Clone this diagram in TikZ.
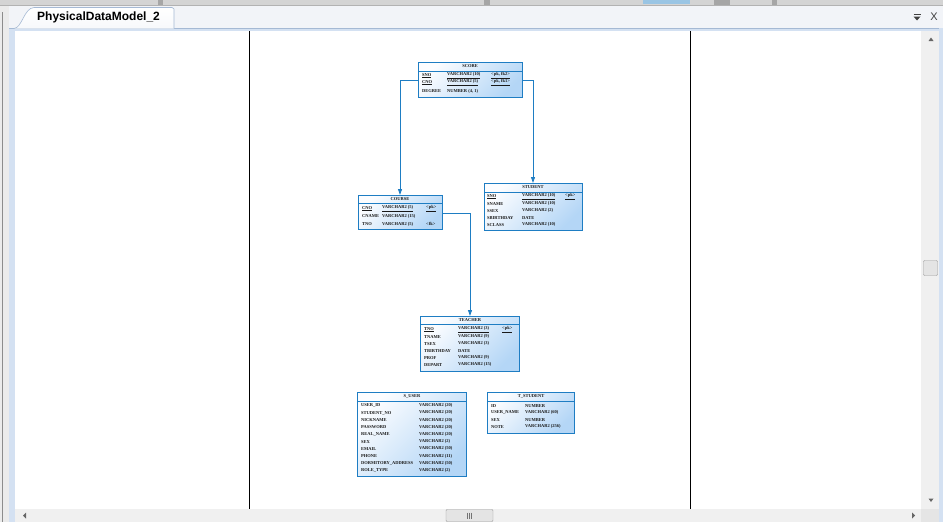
\documentclass[tikz,border=0pt]{standalone}
\usepackage{fontspec}
\setmainfont{Liberation Serif}
\newfontfamily\uifont{Liberation Sans}
\usetikzlibrary{arrows.meta}
\definecolor{erblue}{RGB}{30,125,195}
\definecolor{erfillA}{RGB}{252,253,255}
\definecolor{erfillB}{RGB}{180,214,246}
\definecolor{uibg}{RGB}{242,244,248}
\definecolor{uiframe}{RGB}{212,225,242}
\definecolor{uiline}{RGB}{165,185,212}
\definecolor{track}{RGB}{240,240,240}
\definecolor{thumb}{RGB}{228,228,228}
\newcommand\erfont{\fontsize{4.5}{5}\selectfont\bfseries}
\tikzset{
  tablebox/.style={draw=erblue, line width=0.9pt, top color=erfillA, bottom color=erfillB, shading angle=45, anchor=north west, inner sep=0pt, outer sep=0pt},
  rowtext/.style={anchor=west, inner sep=0pt, font=\erfont, text=black!90},
  titletext/.style={anchor=center, inner sep=0pt, font=\erfont, text=black!90},
  hdrline/.style={draw=erblue, line width=0.6pt},
  conn/.style={draw=erblue, line width=0.9pt, -{Triangle[length=6pt,width=4pt]}},
  sbarrow/.style={fill=black!60, draw=none},
}
\begin{document}
\begin{tikzpicture}[x=1pt,y=-1pt]
\useasboundingbox (0,0) rectangle (943,522);
% ---------- window chrome ----------
\fill[uibg] (0,0) rectangle (943,522);
\fill[black!17] (0,0) rectangle (943,5);
\draw[black!30] (0,5.5) -- (943,5.5);
\fill[black!35] (158,0) rectangle (163,5);
\fill[black!35] (484,0) rectangle (490,5);
\fill[erblue!45] (643,0) rectangle (690,4);
\fill[black!35] (714,0) rectangle (730,5);
\fill[black!35] (772,0) rectangle (777,5);
\fill[black!8] (0,6) rectangle (9,522);
\draw[black!45] (2.5,12) -- (2.5,522);
\fill[uiframe] (9,28) rectangle (943,522);
\draw[uiline] (9,28) -- (943,28);
% tab
\path[top color=white, bottom color=uibg!60!white, draw=uiline, line width=0.6pt]
  (14,28.5) .. controls (22,28) and (24,8) .. (34,7.5) -- (172,7.5) -- (174,9) -- (174,28.5);
\node[font=\uifont\fontsize{12}{14}\selectfont\bfseries, inner sep=0pt, anchor=west] (tabtitle) at (37,17.5) {PhysicalDataModel\_2};
\fill[black!75] (913.5,16.5) -- (920.5,16.5) -- (917,20.5) -- cycle;
\draw[black!75, line width=0.8pt] (913.5,14) -- (920.5,14);
\node[font=\uifont\fontsize{11}{12}\selectfont, text=black!75, inner sep=0pt] (closex) at (934,16.5) {X};
% canvas
\fill[white] (15,31) rectangle (921,509);
\draw[black, line width=0.9pt] (249.5,31) -- (249.5,509);
\draw[black, line width=0.9pt] (690.5,31) -- (690.5,509);
% vertical scrollbar
\fill[track] (921,31) rectangle (939,509);
\fill[uiframe] (939,28) rectangle (943,522);
\draw[black!40, fill=thumb, rounded corners=1pt] (923.5,260.5) rectangle (937.5,275.5);
\fill[sbarrow] (928.5,41) -- (933.5,41) -- (931,37.5) -- cycle;
\fill[sbarrow] (928.5,498.5) -- (933.5,498.5) -- (931,502) -- cycle;
% horizontal scrollbar
\fill[track] (15,509) rectangle (921,521.5);
\fill[black!10] (921,509) rectangle (939,522);
\draw[black!40, fill=thumb, rounded corners=1pt] (446,509.5) rectangle (493,521.5);
\draw[black!55, line width=0.6pt] (467.5,512.5) -- (467.5,518.5) (469.5,512.5) -- (469.5,518.5) (471.5,512.5) -- (471.5,518.5);
\fill[sbarrow] (26,512.5) -- (26,518.5) -- (23,515.5) -- cycle;
\fill[sbarrow] (912,512.5) -- (912,518.5) -- (915,515.5) -- cycle;
% ---------- SCORE ----------
\node[tablebox, minimum width=104pt, minimum height=35pt] (score) at (418,62) {};
\node[titletext] (score-t) at (470,66.5) {SCORE};
\draw[hdrline] (score.west |- 0,71) -- (score.east |- 0,71);
\node[rowtext] (score-1n) at (422,75.7) {\underline{SNO}};
\node[rowtext] (score-1t) at (447,75.7) {\underline{VARCHAR2 (10)}};
\node[rowtext] (score-1k) at (491,75.7) {\underline{<pk, fk2>}};
\node[rowtext] (score-2n) at (422,82.7) {\underline{CNO}};
\node[rowtext] (score-2t) at (447,82.7) {\underline{VARCHAR2 (5)}};
\node[rowtext] (score-2k) at (491,82.7) {\underline{<pk, fk1>}};
\node[rowtext] (score-3n) at (422,91) {DEGREE};
\node[rowtext] (score-3t) at (447,91) {NUMBER (4, 1)};
% ---------- COURSE ----------
\node[tablebox, minimum width=84pt, minimum height=34pt] (course) at (358,195) {};
\node[titletext] (course-t) at (400,199) {COURSE};
\draw[hdrline] (course.west |- 0,203.7) -- (course.east |- 0,203.7);
\node[rowtext] (course-1n) at (362,208.7) {\underline{CNO}};
\node[rowtext] (course-1t) at (382,208.7) {\underline{VARCHAR2 (5)}};
\node[rowtext] (course-1k) at (426,208.7) {\underline{<pk>}};
\node[rowtext] (course-2n) at (362,216) {CNAME};
\node[rowtext] (course-2t) at (382,216) {VARCHAR2 (15)};
\node[rowtext] (course-3n) at (362,224) {TNO};
\node[rowtext] (course-3t) at (382,224) {VARCHAR2 (5)};
\node[rowtext] (course-3k) at (426,224) {<fk>};
% ---------- STUDENT ----------
\node[tablebox, minimum width=98pt, minimum height=47pt] (student) at (484,183) {};
\node[titletext] (student-t) at (533,187.5) {STUDENT};
\draw[hdrline] (student.west |- 0,192) -- (student.east |- 0,192);
\node[rowtext] (student-1n) at (487,196.7) {\underline{SNO}};
\node[rowtext] (student-1t) at (522,196.7) {\underline{VARCHAR2 (10)}};
\node[rowtext] (student-1k) at (565,196.7) {\underline{<pk>}};
\node[rowtext] (student-2n) at (487,203.7) {SNAME};
\node[rowtext] (student-2t) at (522,203.7) {VARCHAR2 (10)};
\node[rowtext] (student-3n) at (487,210.7) {SSEX};
\node[rowtext] (student-3t) at (522,210.7) {VARCHAR2 (2)};
\node[rowtext] (student-4n) at (487,217.7) {SBIRTHDAY};
\node[rowtext] (student-4t) at (522,217.7) {DATE};
\node[rowtext] (student-5n) at (487,224.7) {SCLASS};
\node[rowtext] (student-5t) at (522,224.7) {VARCHAR2 (10)};
% ---------- TEACHER ----------
\node[tablebox, minimum width=99pt, minimum height=55pt] (teacher) at (420.5,316) {};
\node[titletext] (teacher-t) at (470,320) {TEACHER};
\draw[hdrline] (teacher.west |- 0,324.7) -- (teacher.east |- 0,324.7);
\node[rowtext] (teacher-1n) at (424,329.7) {\underline{TNO}};
\node[rowtext] (teacher-1t) at (458,329.7) {\underline{VARCHAR2 (3)}};
\node[rowtext] (teacher-1k) at (502,329.7) {\underline{<pk>}};
\node[rowtext] (teacher-2n) at (424,336.7) {TNAME};
\node[rowtext] (teacher-2t) at (458,336.7) {VARCHAR2 (9)};
\node[rowtext] (teacher-3n) at (424,343.7) {TSEX};
\node[rowtext] (teacher-3t) at (458,343.7) {VARCHAR2 (3)};
\node[rowtext] (teacher-4n) at (424,350.7) {TBIRTHDAY};
\node[rowtext] (teacher-4t) at (458,350.7) {DATE};
\node[rowtext] (teacher-5n) at (424,357.7) {PROF};
\node[rowtext] (teacher-5t) at (458,357.7) {VARCHAR2 (9)};
\node[rowtext] (teacher-6n) at (424,364.7) {DEPART};
\node[rowtext] (teacher-6t) at (458,364.7) {VARCHAR2 (15)};
% ---------- S_USER ----------
\node[tablebox, minimum width=109pt, minimum height=84pt] (suser) at (357.5,392) {};
\node[titletext] (suser-t) at (412,396) {S\_USER};
\draw[hdrline] (suser.west |- 0,401) -- (suser.east |- 0,401);
\node[rowtext] (suser-1n) at (361,405.7) {USER\_ID};
\node[rowtext] (suser-1t) at (419,405.7) {VARCHAR2 (20)};
\node[rowtext] (suser-2n) at (361,412.9) {STUDENT\_NO};
\node[rowtext] (suser-2t) at (419,412.9) {VARCHAR2 (20)};
\node[rowtext] (suser-3n) at (361,420.1) {NICKNAME};
\node[rowtext] (suser-3t) at (419,420.1) {VARCHAR2 (20)};
\node[rowtext] (suser-4n) at (361,427.3) {PASSWORD};
\node[rowtext] (suser-4t) at (419,427.3) {VARCHAR2 (20)};
\node[rowtext] (suser-5n) at (361,434.5) {REAL\_NAME};
\node[rowtext] (suser-5t) at (419,434.5) {VARCHAR2 (20)};
\node[rowtext] (suser-6n) at (361,441.7) {SEX};
\node[rowtext] (suser-6t) at (419,441.7) {VARCHAR2 (2)};
\node[rowtext] (suser-7n) at (361,448.9) {EMAIL};
\node[rowtext] (suser-7t) at (419,448.9) {VARCHAR2 (50)};
\node[rowtext] (suser-8n) at (361,456.1) {PHONE};
\node[rowtext] (suser-8t) at (419,456.1) {VARCHAR2 (11)};
\node[rowtext] (suser-9n) at (361,463.3) {DORMITORY\_ADDRESS};
\node[rowtext] (suser-9t) at (419,463.3) {VARCHAR2 (50)};
\node[rowtext] (suser-10n) at (361,470.5) {ROLE\_TYPE};
\node[rowtext] (suser-10t) at (419,470.5) {VARCHAR2 (2)};
% ---------- T_STUDENT ----------
\node[tablebox, minimum width=86.5pt, minimum height=41pt] (tstudent) at (487.5,392) {};
\node[titletext] (tstudent-t) at (531,396) {T\_STUDENT};
\draw[hdrline] (tstudent.west |- 0,401) -- (tstudent.east |- 0,401);
\node[rowtext] (tstudent-1n) at (491,405.7) {ID};
\node[rowtext] (tstudent-1t) at (525,405.7) {NUMBER};
\node[rowtext] (tstudent-2n) at (491,412.7) {USER\_NAME};
\node[rowtext] (tstudent-2t) at (525,412.7) {VARCHAR2 (60)};
\node[rowtext] (tstudent-3n) at (491,419.7) {SEX};
\node[rowtext] (tstudent-3t) at (525,419.7) {NUMBER};
\node[rowtext] (tstudent-4n) at (491,426.7) {NOTE};
\node[rowtext] (tstudent-4t) at (525,426.7) {VARCHAR2 (256)};
% ---------- connectors ----------
\draw[conn] ([yshift=-1.2pt]score.west) -| (course.north);
\draw[conn] ([yshift=-1.2pt]score.east) -| (student.north);
\draw[conn] ([yshift=-1.3pt]course.east) -| (teacher.north);
\end{tikzpicture}
\end{document}
